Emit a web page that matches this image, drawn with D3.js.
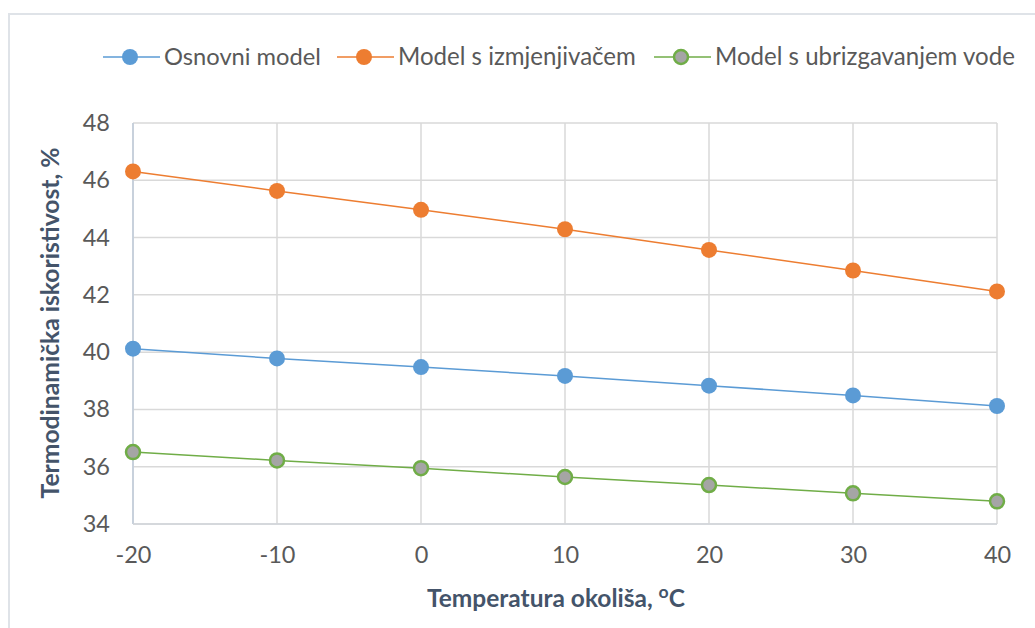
<!DOCTYPE html>
<html><head><meta charset="utf-8">
<script src="https://cdn.jsdelivr.net/npm/d3@7/dist/d3.min.js"></script>
<style>body{margin:0;background:#fff;} svg{display:block;}</style>
</head><body>
<svg id="c" width="1035" height="628"></svg>
<script>
const temps = [-20, -10, 0, 10, 20, 30, 40];
const osnovni = [40.12, 39.78, 39.48, 39.17, 38.83, 38.49, 38.12];
const izmjenjivac = [46.31, 45.63, 44.97, 44.29, 43.57, 42.85, 42.12];
const ubrizgavanje = [36.51, 36.22, 35.95, 35.64, 35.36, 35.07, 34.79];
const seriesNames = ["Osnovni model", "Model s izmjenjivačem", "Model s ubrizgavanjem vode"];
const xTicks = [-20, -10, 0, 10, 20, 30, 40];
const yTicks = [34, 36, 38, 40, 42, 44, 46, 48];

const styles = [
  {stroke:"#5b9bd5", fill:"#5b9bd5", mstroke:"#5b9bd5"},
  {stroke:"#ed7d31", fill:"#ed7d31", mstroke:"#ed7d31"},
  {stroke:"#70ad47", fill:"#a5a5a5", mstroke:"#70ad47"}
];
const series = [osnovni, izmjenjivac, ubrizgavanje];
const font = "Lato, 'Open Sans', sans-serif";
const svg = d3.select("#c");

function fit(sel, w){
  const n = sel.node(); const fs = parseFloat(sel.attr("font-size"));
  const cur = n.getComputedTextLength();
  if (cur > 0) sel.attr("font-size", fs * w / cur);
}

svg.append("path").attr("d","M9,628 V14 H1035").attr("fill","none").attr("stroke","#dfe3e8").attr("stroke-width",2);

const L=133, R=997, T=123, B=524;
const x = d3.scaleLinear().domain([-20,40]).range([L,R]);
const y = d3.scaleLinear().domain([34,48]).range([B,T]);

const g = svg.append("g");
g.selectAll(".hg").data(yTicks).join("line")
  .attr("x1",L).attr("x2",R).attr("y1",d=>y(d)).attr("y2",d=>y(d))
  .attr("stroke","#d9d9d9").attr("stroke-width",1.5);
g.selectAll(".vg").data(xTicks).join("line")
  .attr("y1",T).attr("y2",B).attr("x1",d=>x(d)).attr("x2",d=>x(d))
  .attr("stroke","#d9d9d9").attr("stroke-width",1.5);
g.append("line").attr("x1",L).attr("x2",L).attr("y1",T).attr("y2",B).attr("stroke","#bfcbda").attr("stroke-width",1.5);
g.append("line").attr("x1",L).attr("x2",R).attr("y1",B).attr("y2",B).attr("stroke","#d0d4da").attr("stroke-width",1.5);

const yAxis = d3.axisLeft(y).tickValues(yTicks).tickSize(0).tickPadding(23);
const ya = svg.append("g").attr("transform",`translate(${L},0)`).call(yAxis);
const xAxis = d3.axisBottom(x).tickValues(xTicks).tickSize(0).tickPadding(22).tickFormat(d3.format("d"));
const xa = svg.append("g").attr("transform",`translate(0,${B})`).call(xAxis);
[ya,xa].forEach(a=>{
  a.select(".domain").remove();
  a.selectAll("text").attr("font-family",font).attr("font-size",23.5).attr("fill","#595959");
});
xa.selectAll("text").text(d=>d<0?"-"+Math.abs(d):d);

const yt = svg.append("text").attr("transform",`translate(59,${(T+B)/2 - 0.5}) rotate(-90)`)
  .attr("text-anchor","middle").attr("font-family",font).attr("font-weight","bold")
  .attr("font-size",24.5).attr("fill","#44546a").text("Termodinamička iskoristivost, %");
fit(yt, 351);
const xt = svg.append("text").attr("x",556).attr("y",607).attr("text-anchor","middle")
  .attr("font-family",font).attr("font-weight","bold").attr("font-size",24.5).attr("fill","#44546a");
xt.append("tspan").text("Temperatura okoliša, ");
xt.append("tspan").attr("font-size","0.72em").attr("dy","-0.5em").text("o");
xt.append("tspan").attr("dy","0.36em").text("C");
fit(xt, 258);

const line = d3.line().x((d,i)=>x(temps[i])).y(d=>y(d));
series.forEach((s,k)=>{
  svg.append("path").datum(s).attr("d",line).attr("fill","none")
    .attr("stroke",styles[k].stroke).attr("stroke-width",1.5);
  svg.selectAll(null).data(s).join("circle")
    .attr("cx",(d,i)=>x(temps[i])).attr("cy",d=>y(d))
    .attr("r", k===2?7:8)
    .attr("fill",styles[k].fill)
    .attr("stroke",styles[k].mstroke).attr("stroke-width",k===2?2.5:0);
});

const legX = [103, 337, 654];
const legW = [157, 238, 300];
const legY = 57;
seriesNames.forEach((n,k)=>{
  const lg = svg.append("g").attr("transform",`translate(${legX[k]},${legY})`);
  lg.append("line").attr("x1",0).attr("x2",57).attr("stroke",styles[k].stroke).attr("stroke-width",1.5);
  lg.append("circle").attr("cx",27).attr("r",k===2?7:8).attr("fill",styles[k].fill)
    .attr("stroke",styles[k].mstroke).attr("stroke-width",k===2?2.5:0);
  const t = lg.append("text").attr("x",61).attr("dy","0.35em").attr("font-family",font)
    .attr("font-size",24).attr("fill","#595959").text(n);
  fit(t, legW[k]);
});
</script>
</body></html>
